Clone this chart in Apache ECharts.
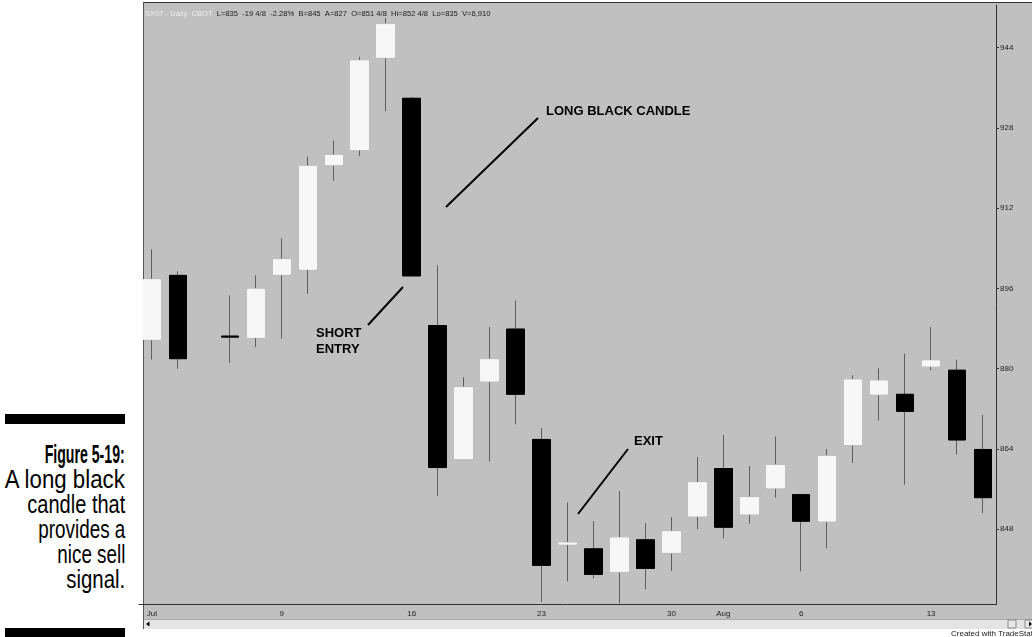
<!DOCTYPE html>
<html>
<head>
<meta charset="utf-8">
<script src="https://cdn.jsdelivr.net/npm/echarts@6/dist/echarts.min.js"></script>
<style>
  html, body { margin: 0; padding: 0; background: #fff; }
  #page { position: relative; width: 1032px; height: 637px; overflow: hidden; }
  #win { position: absolute; left: 143px; top: 2px; width: 889px; height: 617px; background: #c0c0c0;
         border-top: 1px solid #333; border-left: 1px solid #555; box-sizing: border-box; }
  #scroll { position: absolute; left: 143px; top: 619px; width: 889px; height: 10px; background: #e4e4e4;
            border-left: 1px solid #555; border-top: 1px solid #aaa; box-sizing: border-box; }
  #chart { position: absolute; left: 0; top: 0; width: 1032px; height: 637px; }
  .bar { position: absolute; left: 5px; width: 120px; background: #000; }
  #cap { position: absolute; left: -200px; top: 442px; width: 325px; text-align: right; color: #000;
         font-family: 'Liberation Sans', Arial, sans-serif; font-size: 25px; line-height: 25px; }
  #cap div { height: 25px; white-space: nowrap; }
  #cap span { display: inline-block; transform-origin: 100% 50%; }
  #cap .fig { font-weight: bold; }
</style>
</head>
<body>
<div id="page">
  <div id="win"></div>
  <div id="scroll"></div>
  <div class="bar" style="top:414px;height:10px"></div>
  <div class="bar" style="top:628px;height:12px"></div>
  <div id="cap">
    <div><span class="fig" data-w="80">Figure 5-19:</span></div>
    <div><span data-w="120">A long black</span></div>
    <div><span data-w="98">candle that</span></div>
    <div><span data-w="87">provides a</span></div>
    <div><span data-w="68">nice sell</span></div>
    <div><span data-w="59">signal.</span></div>
  </div>
  <div id="chart"></div>
</div>
<script>
// trading days, Jul 4 is the holiday gap
var dates = ['7/2', '7/3', '7/4', '7/5', '7/6', '7/9', '7/10', '7/11', '7/12', '7/13',
  '7/16', '7/17', '7/18', '7/19', '7/20', '7/23', '7/24', '7/25', '7/26', '7/27',
  '7/30', '7/31', '8/1', '8/2', '8/3', '8/6', '8/7', '8/8', '8/9', '8/10',
  '8/13', '8/14', '8/15'];
var tickLabels = { '7/2': 'Jul', '7/9': '9', '7/16': '16', '7/23': '23', '7/30': '30',
  '8/1': 'Aug', '8/6': '6', '8/13': '13' };

var openVals = [885.8, 898.6, null, 886.5, 886.2, 898.8, 899.8, 920.6, 923.6, 942.0,
  933.9, 888.6, 862.0, 877.5, 887.9, 865.9, 845.0, 844.1, 839.5, 845.9,
  843.3, 850.6, 860.1, 851.0, 856.2, 854.9, 849.6, 864.8, 874.9, 874.9,
  880.5, 879.7, 863.9];
var closeVals = [897.8, 882.0, null, 886.3, 895.9, 901.8, 920.4, 922.6, 941.4, 948.7,
  898.5, 860.3, 876.3, 881.9, 874.9, 840.8, 845.3, 839.0, 846.3, 840.2,
  847.6, 857.3, 848.4, 854.4, 860.8, 849.6, 862.6, 877.8, 877.6, 871.5,
  881.6, 865.8, 854.3];
var lowVals = [881.8, 880.0, null, 881.2, 884.3, 886.0, 894.9, 917.5, 922.4, 931.3,
  898.5, 854.6, 862.0, 861.5, 868.9, 833.5, 837.6, 838.2, 833.2, 836.0,
  839.7, 848.0, 846.2, 849.1, 854.3, 839.6, 844.2, 861.2, 869.7, 856.9,
  879.7, 862.9, 851.2];
var highVals = [903.8, 899.4, null, 894.6, 898.6, 906.0, 922.3, 925.5, 942.2, 949.9,
  934.2, 900.6, 878.3, 888.3, 893.6, 868.2, 853.3, 849.6, 855.6, 849.2,
  850.4, 862.4, 866.8, 860.6, 866.5, 854.9, 864.0, 878.7, 880.1, 883.0,
  888.3, 881.8, 870.8];

var priceTicks = [848, 864, 880, 896, 912, 928, 944];
var lastPrice = 835;
var symbolText = 'SX07 - Daily  CBOT';
var quoteText = 'L=835  -19 4/8  -2.28%  B=845  A=827  O=851 4/8  Hi=852 4/8  Lo=835  V=6,910';

var FONT = 'Liberation Sans, Arial, sans-serif';

// squeeze caption lines to the condensed widths of the book typeface
document.querySelectorAll('#cap span').forEach(function (el) {
  var w = el.getBoundingClientRect().width;
  el.style.transform = 'scaleX(' + (Number(el.dataset.w) / w) + ')';
});

// wicks only (bodies left empty) and bodies only (no wick length)
var wickData = dates.map(function (d, i) {
  if (openVals[i] == null) return ['-', '-', '-', '-'];
  return [openVals[i], closeVals[i], lowVals[i], highVals[i]];
});
var bodyData = dates.map(function (d, i) {
  if (openVals[i] == null) return ['-', '-', '-', '-'];
  var lo = Math.min(openVals[i], closeVals[i]);
  var hi = Math.max(openVals[i], closeVals[i]);
  return [openVals[i], closeVals[i], lo, hi];
});

var myChart = echarts.init(document.getElementById('chart'));

var option = {
  animation: false,
  backgroundColor: 'transparent',
  grid: { left: 139, right: 36, top: 5, bottom: 32.5 },
  xAxis: {
    type: 'category',
    data: dates,
    boundaryGap: true,
    axisLine: { lineStyle: { color: '#333', width: 1 } },
    axisTick: {
      alignWithLabel: true,
      length: 3,
      interval: function (i, v) { return !!tickLabels[v]; },
      lineStyle: { color: '#333' }
    },
    axisLabel: {
      interval: 0,
      margin: 5,
      fontSize: 8,
      color: '#222',
      fontFamily: FONT,
      formatter: function (v) { return tickLabels[v] || ''; }
    },
    splitLine: { show: false }
  },
  yAxis: {
    type: 'value',
    position: 'right',
    min: 833,
    max: 952.5,
    axisLine: { show: true, lineStyle: { color: '#333', width: 1 } },
    axisTick: { show: true, length: 3, customValues: priceTicks, lineStyle: { color: '#333' } },
    axisLabel: { customValues: priceTicks, margin: 4, fontSize: 8, color: '#222', fontFamily: FONT },
    splitLine: { show: false }
  },
  series: [
    {
      name: 'wick',
      type: 'candlestick',
      data: wickData,
      barWidth: 18,
      silent: true,
      itemStyle: {
        color: 'transparent',
        color0: 'transparent',
        borderColor: '#5e5e5e',
        borderColor0: '#5e5e5e',
        borderWidth: 1
      }
    },
    {
      name: 'body',
      type: 'candlestick',
      data: bodyData,
      barWidth: 18,
      silent: true,
      itemStyle: {
        color: '#f7f7f7',
        color0: '#000',
        borderColor: '#f7f7f7',
        borderColor0: '#000',
        borderWidth: 1
      },
      markLine: {
        silent: true,
        symbol: 'none',
        lineStyle: { opacity: 0 },
        data: [{ yAxis: lastPrice }],
        label: {
          position: 'end',
          distance: 1,
          formatter: String(lastPrice),
          backgroundColor: '#000',
          color: '#cfcfcf',
          fontSize: 8,
          fontFamily: FONT,
          lineHeight: 9,
          padding: [0, 20, 0, 3]
        }
      }
    }
  ],
  graphic: [
    {
      type: 'text', left: 145, top: 10,
      style: {
        text: '{a|' + symbolText + '}  {b|' + quoteText + '}',
        font: '7.6px ' + FONT,
        rich: {
          a: { fill: '#ececec', fontSize: 7.6, fontFamily: FONT },
          b: { fill: '#1a1a1a', fontSize: 7.6, fontFamily: FONT }
        }
      }
    },

    { type: 'line', shape: { x1: 446, y1: 207, x2: 538, y2: 118 }, style: { stroke: '#000', lineWidth: 2 } },
    { type: 'text', x: 546, y: 111, style: { text: 'LONG BLACK CANDLE', fill: '#000', font: 'bold 13px ' + FONT, verticalAlign: 'middle' } },

    { type: 'line', shape: { x1: 368, y1: 325, x2: 403, y2: 287 }, style: { stroke: '#000', lineWidth: 2 } },
    { type: 'text', x: 316, y: 333, style: { text: 'SHORT', fill: '#000', font: 'bold 13px ' + FONT, verticalAlign: 'middle' } },
    { type: 'text', x: 316, y: 349, style: { text: 'ENTRY', fill: '#000', font: 'bold 13px ' + FONT, verticalAlign: 'middle' } },

    { type: 'line', shape: { x1: 578, y1: 514, x2: 628, y2: 449 }, style: { stroke: '#000', lineWidth: 2 } },
    { type: 'text', x: 634, y: 441.5, style: { text: 'EXIT', fill: '#000', font: 'bold 13px ' + FONT, verticalAlign: 'middle' } },

    // scroll bar bits
    { type: 'polygon', shape: { points: [[146, 624], [149.5, 621.5], [149.5, 626.5]] }, style: { fill: '#000' } },
    { type: 'rect', shape: { x: 1008, y: 620, width: 8, height: 8 }, style: { fill: '#e8e8e8', stroke: '#888', lineWidth: 1 } },
    { type: 'rect', shape: { x: 1025, y: 620, width: 8, height: 8 }, style: { fill: '#e8e8e8', stroke: '#888', lineWidth: 1 } },
    { type: 'polygon', shape: { points: [[1029, 621.5], [1032, 624], [1029, 626.5]] }, style: { fill: '#000' } },

    { type: 'text', x: 951, y: 634, style: { text: 'Created with TradeStation', fill: '#222', font: '8px ' + FONT, verticalAlign: 'middle' } }
  ]
};

myChart.setOption(option);
</script>
</body>
</html>
